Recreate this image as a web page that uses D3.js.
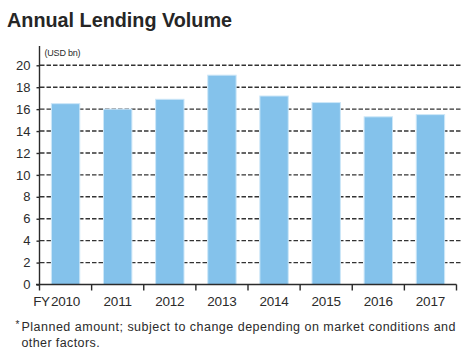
<!DOCTYPE html>
<html>
<head>
<meta charset="utf-8">
<script src="https://cdn.jsdelivr.net/npm/d3@7"></script>
<style>
  html, body { margin: 0; padding: 0; background: #fff; }
  svg { display: block; font-family: "Liberation Sans", Arial, Helvetica, sans-serif; }
</style>
</head>
<body>
<svg id="chart" width="462" height="352"></svg>
<script>
// Annual lending volume by fiscal year (USD bn)
const years = ["2010", "2011", "2012", "2013", "2014", "2015", "2016", "2017"];
const volumes = [16.5, 16.0, 16.9, 19.1, 17.2, 16.6, 15.3, 15.5];
const yTicks = [0, 2, 4, 6, 8, 10, 12, 14, 16, 18, 20];
const titleText = "Annual Lending Volume";
const unitText = "(USD bn)";
const noteLines = ["Planned amount; subject to change depending on market conditions and", "other factors."];

const svg = d3.select("#chart");
const ink = "#2b2b2b";

const x = d3.scaleBand().domain(years).range([39.5, 456.5]).padding(0);
const y = d3.scaleLinear().domain([0, 20]).range([284.5, 65.3]);

// Title
svg.append("text")
  .attr("x", 7).attr("y", 26.5)
  .attr("font-size", 19.5).attr("font-weight", "bold")
  .attr("fill", "#262626")
  .attr("textLength", 225).attr("lengthAdjust", "spacingAndGlyphs")
  .text(titleText);

// Dashed gridlines
svg.append("g")
  .selectAll("line")
  .data(yTicks.filter(d => d > 0))
  .join("line")
  .attr("x1", 40).attr("x2", 462)
  .attr("y1", d => y(d)).attr("y2", d => y(d))
  .attr("stroke", "#333").attr("stroke-width", 1.4)
  .attr("stroke-dasharray", "4.5,2");

// Bars
const barW = x.bandwidth() * 0.545;
svg.append("g")
  .selectAll("rect")
  .data(years.map((yr, i) => ({ yr, v: volumes[i] })))
  .join("rect")
  .attr("x", d => x(d.yr) + (x.bandwidth() - barW) / 2)
  .attr("width", barW)
  .attr("y", d => y(d.v))
  .attr("height", d => y(0) - y(d.v))
  .attr("fill", "#84c2eb")
  .attr("stroke", "#cde7f8").attr("stroke-width", 1);

// Y axis
const yAxis = svg.append("g")
  .attr("transform", "translate(39.5,0)")
  .call(d3.axisLeft(y).tickValues(yTicks).tickSize(3).tickPadding(6));
yAxis.select(".domain").attr("d", `M0,${y(0)}V46`);
yAxis.selectAll("path, line").attr("stroke", ink).attr("stroke-width", 1.4);
yAxis.selectAll("text").attr("font-size", 13).attr("fill", ink)
  .attr("font-family", "\"Liberation Sans\", Arial, sans-serif");

// Unit label
svg.append("text")
  .attr("x", 44.5).attr("y", 56)
  .attr("font-size", 9).attr("fill", ink)
  .attr("letter-spacing", -0.2)
  .text(unitText);

// X axis with ticks on band boundaries
const xAxisG = svg.append("g").attr("transform", `translate(0,${y(0)})`);
xAxisG.append("line")
  .attr("x1", 36).attr("x2", x.range()[1])
  .attr("stroke", ink).attr("stroke-width", 1.4);
const bounds = years.map(d => x(d)).concat([x.range()[1]]);
xAxisG.selectAll("line.tick")
  .data(bounds)
  .join("line")
  .attr("class", "tick")
  .attr("x1", d => d).attr("x2", d => d)
  .attr("y1", 0).attr("y2", 6)
  .attr("stroke", ink).attr("stroke-width", 1.4);
xAxisG.selectAll("text.lbl")
  .data(years)
  .join("text")
  .attr("class", "lbl")
  .attr("x", d => x(d) + x.bandwidth() / 2)
  .attr("y", 21)
  .attr("text-anchor", "middle")
  .attr("font-size", 13.5).attr("fill", ink)
  .attr("letter-spacing", -0.2)
  .text(d => d);
// Fiscal-year prefix before the first label
xAxisG.append("text")
  .attr("x", x(years[0]) + x.bandwidth() / 2 - 16)
  .attr("y", 21)
  .attr("text-anchor", "end")
  .attr("font-size", 13.5).attr("fill", ink)
  .attr("letter-spacing", -0.5)
  .text("FY");

// Footnote
svg.append("text")
  .attr("x", 15.5).attr("y", 328)
  .attr("font-size", 10).attr("fill", ink)
  .text("*");
svg.append("g").selectAll("text")
  .data(noteLines)
  .join("text")
  .attr("x", 21.5)
  .attr("y", (d, i) => 330.5 + i * 16)
  .attr("font-size", 12.5).attr("fill", ink)
  .attr("textLength", (d, i) => i === 0 ? 434 : null)
  .attr("lengthAdjust", "spacing")
  .attr("letter-spacing", (d, i) => i === 0 ? null : 0.4)
  .text(d => d);
</script>
</body>
</html>
